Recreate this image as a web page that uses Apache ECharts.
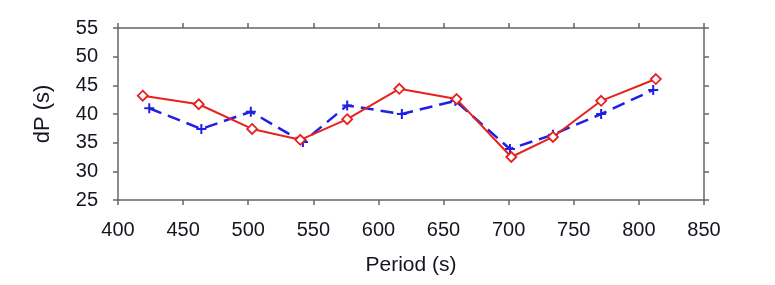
<!DOCTYPE html>
<html>
<head>
<meta charset="utf-8">
<script src="https://cdn.jsdelivr.net/npm/echarts@6/dist/echarts.min.js"></script>
<style>html,body{margin:0;padding:0;background:#fff;}#c{width:775px;height:285px;}</style>
</head>
<body>
<div id="c"></div>
<script>
var redPeriod = [419, 462, 503, 540, 576, 616, 660, 702, 734, 771, 813];
var redDP     = [43.2, 41.7, 37.4, 35.5, 39.1, 44.4, 42.6, 32.5, 36.0, 42.3, 46.1];
var bluePeriod = [424, 464, 502, 542, 576, 618, 659, 701, 734, 771, 811];
var blueDP     = [41.0, 37.4, 40.4, 35.1, 41.5, 40.0, 42.3, 33.9, 36.4, 40.0, 44.2];
var xTicks = [400, 450, 500, 550, 600, 650, 700, 750, 800, 850];
var yTicks = [25, 30, 35, 40, 45, 50, 55];

function pairs(xs, ys) { return xs.map(function (x, i) { return [x, ys[i]]; }); }

var axisColor = '#666';
var labelColor = '#15151f';
var font = 'Liberation Sans';
var plus = 'path://M4,0H6V4H10V6H6V10H4V6H0V4H4Z';

var chart = echarts.init(document.getElementById('c'), null, {renderer: 'canvas'});
chart.setOption({
  animation: false,
  backgroundColor: '#fff',
  grid: {left: 118, right: 71, top: 28, bottom: 85, containLabel: false},
  xAxis: [{
    type: 'value', min: xTicks[0], max: xTicks[xTicks.length - 1], interval: 50,
    name: 'Period (s)', nameLocation: 'middle', nameGap: 55,
    nameTextStyle: {fontFamily: font, fontSize: 21, color: labelColor},
    axisLine: {lineStyle: {color: axisColor, width: 1.5}},
    axisTick: {show: true, length: 5, lineStyle: {color: axisColor, width: 1.5}},
    axisLabel: {fontFamily: font, fontSize: 20, color: labelColor, margin: 20},
    splitLine: {show: false}
  }, {
    type: 'value', position: 'top', min: xTicks[0], max: xTicks[xTicks.length - 1], interval: 50,
    axisLine: {show: true, lineStyle: {color: axisColor, width: 1.5}},
    axisTick: {show: true, length: 5, lineStyle: {color: axisColor, width: 1.5}},
    axisLabel: {show: false}, splitLine: {show: false}
  }],
  yAxis: [{
    type: 'value', min: yTicks[0], max: yTicks[yTicks.length - 1], interval: 5,
    name: 'dP (s)', nameLocation: 'middle', nameGap: 64, nameRotate: 90,
    nameTextStyle: {fontFamily: font, fontSize: 22, color: labelColor},
    axisLine: {show: true, lineStyle: {color: axisColor, width: 1.5}},
    axisTick: {show: true, length: 5, lineStyle: {color: axisColor, width: 1.5}},
    axisLabel: {fontFamily: font, fontSize: 20, color: labelColor, margin: 20},
    splitLine: {show: false}
  }, {
    type: 'value', position: 'right', min: yTicks[0], max: yTicks[yTicks.length - 1], interval: 5,
    axisLine: {show: true, lineStyle: {color: axisColor, width: 1.5}},
    axisTick: {show: true, length: 5, lineStyle: {color: axisColor, width: 1.5}},
    axisLabel: {show: false}, splitLine: {show: false}
  }],
  series: [{
    type: 'line', name: 'blue',
    data: pairs(bluePeriod, blueDP),
    lineStyle: {color: '#1f1fe6', width: 2.5, type: [13, 7]},
    itemStyle: {color: '#1f1fe6'},
    symbol: plus, symbolSize: 10, showSymbol: true, z: 2
  }, {
    type: 'line', name: 'red',
    data: pairs(redPeriod, redDP),
    lineStyle: {color: '#e8201e', width: 2},
    itemStyle: {color: '#fff', borderColor: '#e8201e', borderWidth: 1.8},
    symbol: 'diamond', symbolSize: 10, showSymbol: true, z: 3
  }]
});
</script>
</body>
</html>
